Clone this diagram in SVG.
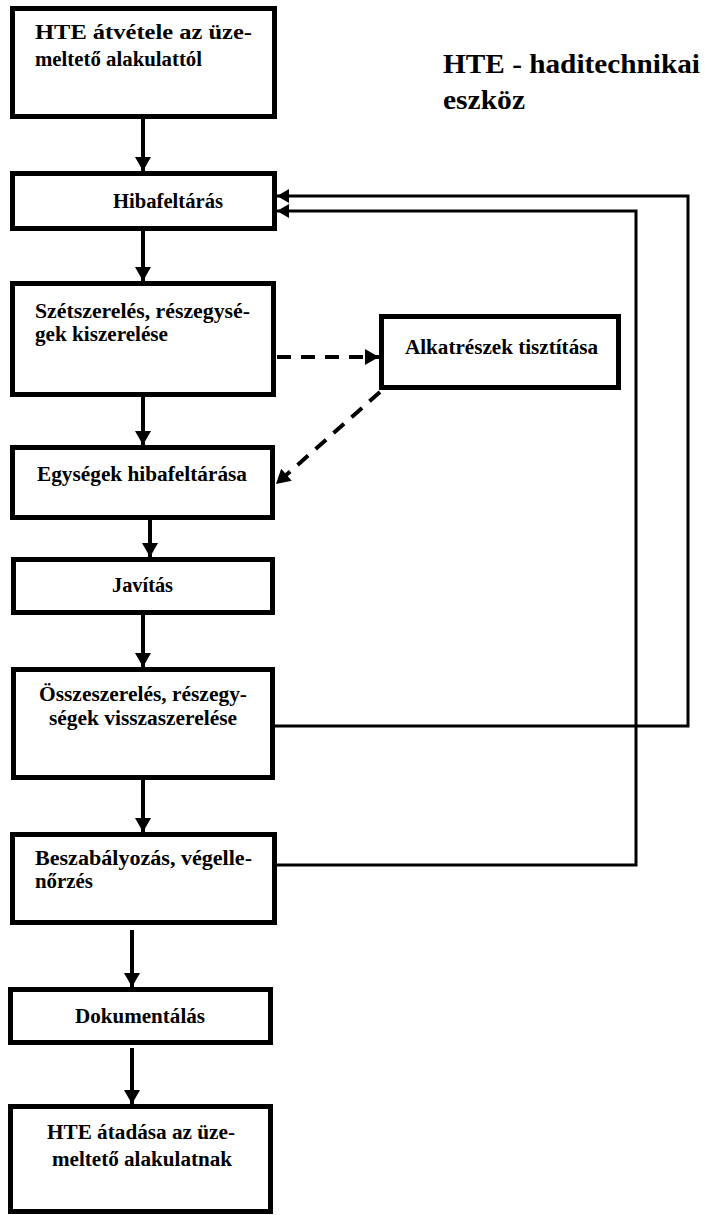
<svg xmlns="http://www.w3.org/2000/svg" width="705" height="1215" viewBox="0 0 705 1215">
<style>
.box{fill:#fff;stroke:#000;stroke-width:5}
.t{font-family:"Liberation Serif","Times New Roman",serif;font-weight:bold;font-size:20px;fill:#000}
.title{font-family:"Liberation Serif","Times New Roman",serif;font-weight:bold;font-size:28px;fill:#000}
.solid{fill:none;stroke:#000;stroke-width:4}
.dash{fill:none;stroke:#000;stroke-width:4;stroke-dasharray:14 10}
.fb{fill:none;stroke:#000;stroke-width:3}
</style>
<defs>
<marker id="ah" markerUnits="userSpaceOnUse" markerWidth="16" markerHeight="16" refX="14" refY="8" orient="auto">
<path d="M0,0 L14,8 L0,16 Z" fill="#000"/>
</marker>
<marker id="ahs" markerUnits="userSpaceOnUse" markerWidth="14" markerHeight="14" refX="12" refY="7" orient="auto">
<path d="M0,0 L12,7 L0,14 Z" fill="#000"/>
</marker>
</defs>
<rect width="705" height="1215" fill="#fff"/>
<g id="title">
<text class="title" x="443" y="73" textLength="257" lengthAdjust="spacingAndGlyphs">HTE - haditechnikai</text>
<text class="title" x="443" y="109" textLength="82" lengthAdjust="spacingAndGlyphs">eszköz</text>
</g>
<g id="connectors">
<line class="solid" x1="143" y1="119" x2="143" y2="171" marker-end="url(#ah)"/>
<line class="solid" x1="143" y1="231" x2="143" y2="281" marker-end="url(#ah)"/>
<line class="solid" x1="143" y1="397" x2="143" y2="445" marker-end="url(#ah)"/>
<line class="solid" x1="150" y1="520" x2="150" y2="557" marker-end="url(#ah)"/>
<line class="solid" x1="143" y1="615" x2="143" y2="667" marker-end="url(#ah)"/>
<line class="solid" x1="143" y1="780" x2="143" y2="832" marker-end="url(#ah)"/>
<line class="solid" x1="132" y1="930" x2="132" y2="987" marker-end="url(#ah)"/>
<line class="solid" x1="132" y1="1048" x2="132" y2="1104" marker-end="url(#ah)"/>
<line class="dash" x1="277" y1="357" x2="379" y2="357" marker-end="url(#ah)"/>
<line class="dash" x1="380" y1="392" x2="276" y2="484" marker-end="url(#ah)"/>
<polyline class="fb" points="275,726 688,726 688,196 277,196" marker-end="url(#ahs)"/>
<polyline class="fb" points="277,865 636,865 636,211 277,211" marker-end="url(#ahs)"/>
</g>
<g id="n1">
<rect class="box" x="12.5" y="8.5" width="262" height="108"/>
<text class="t" x="35" y="39" textLength="217" lengthAdjust="spacingAndGlyphs">HTE átvétele az üze-</text>
<text class="t" x="35" y="66" textLength="167" lengthAdjust="spacingAndGlyphs">meltető alakulattól</text>
</g>
<g id="n2">
<rect class="box" x="12.5" y="173.5" width="262" height="55"/>
<text class="t" x="113" y="208" textLength="110" lengthAdjust="spacingAndGlyphs">Hibafeltárás</text>
</g>
<g id="n3">
<rect class="box" x="12.5" y="283.5" width="261" height="111"/>
<text class="t" x="35" y="318" textLength="215" lengthAdjust="spacingAndGlyphs">Szétszerelés,  részegysé-</text>
<text class="t" x="35" y="341" textLength="133" lengthAdjust="spacingAndGlyphs">gek kiszerelése</text>
</g>
<g id="n4">
<rect class="box" x="381.5" y="316.5" width="237" height="71"/>
<text class="t" x="405" y="354" textLength="193" lengthAdjust="spacingAndGlyphs">Alkatrészek tisztítása</text>
</g>
<g id="n5">
<rect class="box" x="12.5" y="447.5" width="260" height="70"/>
<text class="t" x="37" y="481" textLength="210" lengthAdjust="spacingAndGlyphs">Egységek hibafeltárása</text>
</g>
<g id="n6">
<rect class="box" x="13.5" y="559.5" width="259" height="53"/>
<text class="t" x="112" y="592" textLength="61" lengthAdjust="spacingAndGlyphs">Javítás</text>
</g>
<g id="n7">
<rect class="box" x="13.5" y="669.5" width="259" height="108"/>
<text class="t" x="39" y="701" textLength="208" lengthAdjust="spacingAndGlyphs">Összeszerelés, részegy-</text>
<text class="t" x="49" y="725" textLength="188" lengthAdjust="spacingAndGlyphs">ségek visszaszerelése</text>
</g>
<g id="n8">
<rect class="box" x="12.5" y="834.5" width="262" height="88"/>
<text class="t" x="35" y="865" textLength="217" lengthAdjust="spacingAndGlyphs">Beszabályozás,  végelle-</text>
<text class="t" x="35" y="888" textLength="58" lengthAdjust="spacingAndGlyphs">nőrzés</text>
</g>
<g id="n9">
<rect class="box" x="10.5" y="989.5" width="260" height="53"/>
<text class="t" x="75" y="1023" textLength="130" lengthAdjust="spacingAndGlyphs">Dokumentálás</text>
</g>
<g id="n10">
<rect class="box" x="10.5" y="1106.5" width="260" height="105"/>
<text class="t" x="47" y="1139" textLength="188" lengthAdjust="spacingAndGlyphs">HTE átadása az üze-</text>
<text class="t" x="52" y="1166" textLength="180" lengthAdjust="spacingAndGlyphs">meltető alakulatnak</text>
</g>
</svg>
